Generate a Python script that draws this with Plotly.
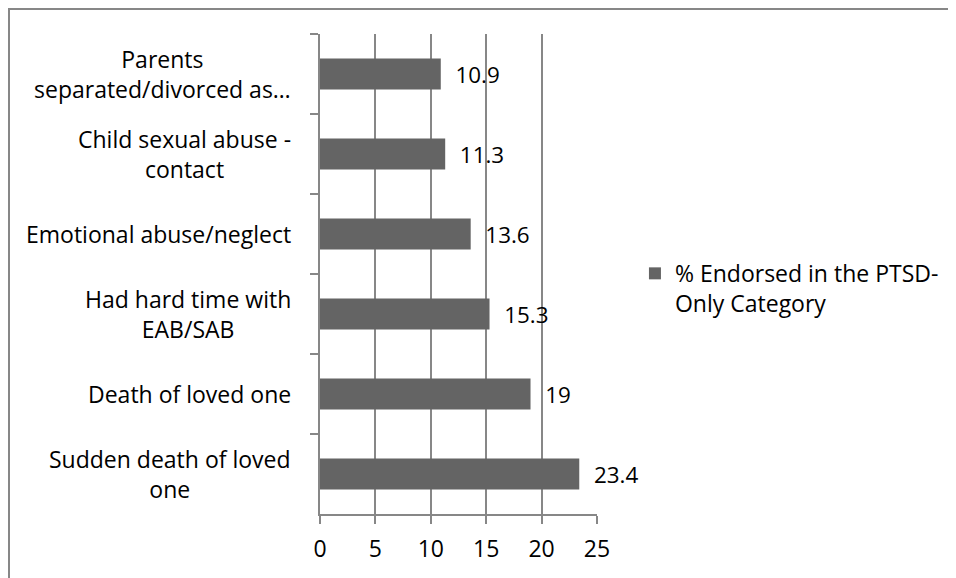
import plotly.graph_objects as go

categories = [
    "Parents<br>separated/divorced as…",
    "Child sexual abuse -<br>contact",
    "Emotional abuse/neglect",
    "Had hard time with<br>EAB/SAB",
    "Death of loved one",
    "Sudden death of loved<br>one",
]
values = [10.9, 11.3, 13.6, 15.3, 19, 23.4]
series_name = "% Endorsed in the PTSD-<br>Only Category"
x_ticks = [0, 5, 10, 15, 20, 25]

FONT = "Open Sans"
FS = 23
GRID = "#878787"

# page body has an 8px margin; figure coordinates compensate for it
W, H = 956, 578
L, T = 312, 26
PW, PH = 277, 480
R = W - L - PW
B = H - T - PH

fig = go.Figure()
fig.add_trace(go.Bar(
    y=categories, x=values, orientation="h",
    name=series_name,
    marker=dict(color="#646464", line=dict(width=0)),
    texttemplate="\u00a0\u00a0%{x}",
    textposition="outside",
    textfont=dict(family=FONT, size=FS, color="#000000"),
    cliponaxis=False,
    showlegend=True,
))

annotations = []
for c in categories:
    annotations.append(dict(
        xref="paper", yref="y", x=0, y=c, xshift=-27,
        xanchor="right", yanchor="middle", align="center",
        text=c, showarrow=False,
        font=dict(family=FONT, size=FS, color="#000000"),
    ))

fig.update_layout(
    width=W, height=H,
    margin=dict(l=L, r=R, t=T, b=B),
    paper_bgcolor="white", plot_bgcolor="white",
    bargap=0.61,
    font=dict(family=FONT, size=FS, color="#000000"),
    xaxis=dict(
        range=[0, 25], tickvals=x_ticks, showgrid=True, gridcolor=GRID, gridwidth=1.5,
        showline=True, linecolor=GRID, linewidth=1.5, ticks="outside", ticklen=8,
        tickcolor=GRID, tickwidth=1.5, zeroline=False, ticklabelstandoff=6,
        tickfont=dict(family=FONT, size=FS, color="#000000"),
    ),
    yaxis=dict(
        autorange="reversed", showticklabels=False, showgrid=False,
        showline=True, linecolor=GRID, linewidth=1.5, ticks="outside", ticklen=8,
        tickcolor=GRID, tickwidth=1.5, tickson="boundaries", zeroline=False,
    ),
    legend=dict(
        x=1.137, xanchor="left", y=0.47, yanchor="middle", valign="top",
        font=dict(family=FONT, size=FS, color="#000000"),
        bgcolor="rgba(0,0,0,0)",
    ),
    annotations=annotations,
    shapes=[dict(
        type="rect", xref="paper", yref="paper",
        x0=(1 - L) / PW, x1=3.0, y0=-0.5, y1=(PH + T - 1) / PH,
        line=dict(color=GRID, width=2), fillcolor="rgba(0,0,0,0)", layer="below",
    )],
)

fig.write_html("out.html")
